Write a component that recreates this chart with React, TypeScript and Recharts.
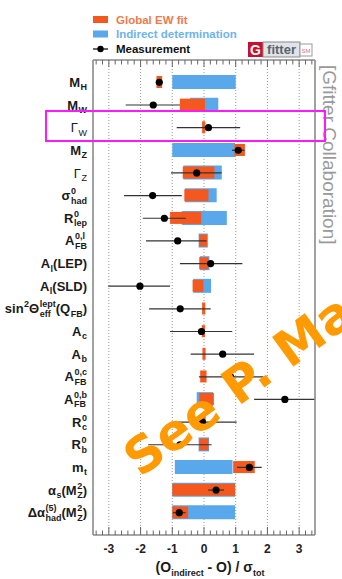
import React from 'react';
import { ComposedChart, Bar, Line, XAxis, YAxis, CartesianGrid, ErrorBar } from 'recharts';

// ---------- data ----------
const categories = ['MH', 'MW', 'GW', 'MZ', 'GZ', 'sighad', 'Rlep', 'AFBl', 'AlLEP', 'AlSLD', 'sin2', 'Ac', 'Ab', 'AFBc', 'AFBb', 'Rc', 'Rb', 'mt', 'alphas', 'dalpha'];

const indirectLo = [-1.0, -0.44, null, -1.0, -0.65, -0.6, -0.7, -0.17, -0.13, -0.34, null, null, null, null, -0.23, null, -0.17, -0.92, -1.0, -1.0];
const indirectHi = [1.0, 0.45, null, 0.98, 0.56, 0.4, 0.72, 0.12, 0.17, 0.22, null, null, null, null, 0.29, null, 0.16, 0.9, 0.98, 0.98];
const fitLo = [-1.5, -0.76, -0.06, 0.96, -0.67, -0.62, -1.07, -0.15, -0.15, -0.36, -0.06, -0.07, -0.05, -0.12, -0.15, -0.07, -0.15, 0.92, -1.0, -1.0];
const fitHi = [-1.32, 0.03, 0.04, 1.29, 0.33, 0.14, -0.09, 0.1, 0.14, -0.02, 0.04, 0.03, 0.05, 0.08, 0.31, 0.05, 0.14, 1.6, 0.98, -0.5];
const measurement = [-1.41, -1.6, 0.14, 1.08, -0.23, -1.62, -1.25, -0.83, 0.21, -2.02, -0.75, -0.08, 0.59, 0.84, 2.55, -0.05, -0.76, 1.43, 0.38, -0.78];
const errLow = [0.05, 0.87, 1.0, 0.2, 0.81, 0.9, 0.68, 1.0, 0.97, 1.0, 0.98, 0.99, 1.01, 1.0, 0.97, 0.9, 1.0, 0.39, 0.25, 0.2];
const errHigh = [0.05, 0.84, 1.0, 0.2, 0.79, 0.92, 0.68, 0.91, 1.0, 0.95, 0.96, 0.97, 0.99, 1.03, 0.95, 1.08, 1.0, 0.39, 0.25, 0.2];

const majorTicks = [-3, -2, -1, 0, 1, 2, 3];

type G = { t: string; sup?: string; sub?: string };
const labelGroups: Record<string, G[]> = {
  MH: [{ t: 'M', sub: 'H' }],
  MW: [{ t: 'M', sub: 'W' }],
  GW: [{ t: 'Γ', sub: 'W' }],
  MZ: [{ t: 'M', sub: 'Z' }],
  GZ: [{ t: 'Γ', sub: 'Z' }],
  sighad: [{ t: 'σ', sup: '0', sub: 'had' }],
  Rlep: [{ t: 'R', sup: '0', sub: 'lep' }],
  AFBl: [{ t: 'A', sup: '0,l', sub: 'FB' }],
  AlLEP: [{ t: 'A', sub: 'l' }, { t: '(LEP)' }],
  AlSLD: [{ t: 'A', sub: 'l' }, { t: '(SLD)' }],
  sin2: [{ t: 'sin', sup: '2' }, { t: 'Θ', sup: 'lept', sub: 'eff' }, { t: '(Q', sub: 'FB' }, { t: ')' }],
  Ac: [{ t: 'A', sub: 'c' }],
  Ab: [{ t: 'A', sub: 'b' }],
  AFBc: [{ t: 'A', sup: '0,c', sub: 'FB' }],
  AFBb: [{ t: 'A', sup: '0,b', sub: 'FB' }],
  Rc: [{ t: 'R', sup: '0', sub: 'c' }],
  Rb: [{ t: 'R', sup: '0', sub: 'b' }],
  mt: [{ t: 'm', sub: 't' }],
  alphas: [{ t: 'α', sub: 's' }, { t: '(M', sup: '2', sub: 'Z' }, { t: ')' }],
  dalpha: [{ t: 'Δα', sup: '(5)', sub: 'had' }, { t: '(M', sup: '2', sub: 'Z' }, { t: ')' }],
};
const thinLabels = new Set(['GW', 'GZ']);

const data = categories.map((name, i) => ({
  name,
  indirect: indirectLo[i] === null ? null : [indirectLo[i], indirectHi[i]],
  fit: [fitLo[i], fitHi[i]],
  meas: measurement[i],
  err: [errLow[i], errHigh[i]],
}));

// ---------- styling ----------
const BLUE = '#5aa8ec';
const ORANGE = '#f4581e';
const FRAME = '#8a8a8a';
const FONT = '"Liberation Sans", Arial, Helvetica, sans-serif';

const allTicks: number[] = [];
for (let k = -17; k <= 17; k++) allTicks.push(Math.round(k * 2) / 10);
const isMajor = (v: number) => Math.abs(v - Math.round(v)) < 1e-6;

let ctx: CanvasRenderingContext2D | null = null;
function measure(text: string, size: number, weight: string) {
  if (!ctx) ctx = document.createElement('canvas').getContext('2d');
  if (!ctx) return text.length * size * 0.6;
  ctx.font = `${weight} ${size}px ${FONT}`;
  return ctx.measureText(text).width;
}

const MS = 13;
const SS = 9;

const YTick = (props: any) => {
  const { x, y, payload } = props;
  const key = payload.value as string;
  const groups = labelGroups[key] || [{ t: key }];
  const weight = thinLabels.has(key) ? 'normal' : 'bold';
  const ws = groups.map((g) => {
    const wm = measure(g.t, MS, weight);
    const wsub = g.sub ? measure(g.sub, SS, weight) : 0;
    const wsup = g.sup ? measure(g.sup, SS, weight) : 0;
    const ws2 = g.sub || g.sup ? Math.max(wsub, wsup) + 0.5 : 0;
    return { wm, ws: ws2 };
  });
  const total = ws.reduce((a, b) => a + b.wm + b.ws, 0);
  let cx = x - 6 - total;
  const els: any[] = [];
  groups.forEach((g, i) => {
    els.push(
      <text key={'m' + i} x={cx} y={y + 4.6} fontSize={MS} fontWeight={weight} fontFamily={FONT} fill="#1a1a1a">
        {g.t}
      </text>
    );
    const sx = cx + ws[i].wm + 0.5;
    if (g.sup)
      els.push(
        <text key={'p' + i} x={sx} y={y - 1.5} fontSize={SS} fontWeight={weight} fontFamily={FONT} fill="#1a1a1a">
          {g.sup}
        </text>
      );
    if (g.sub)
      els.push(
        <text key={'b' + i} x={sx} y={y + 8} fontSize={SS} fontWeight={weight} fontFamily={FONT} fill="#1a1a1a">
          {g.sub}
        </text>
      );
    cx += ws[i].wm + ws[i].ws;
  });
  return <g>{els}</g>;
};

const BottomTick = (props: any) => {
  const { x, y, payload } = props;
  const v = payload.value as number;
  const major = isMajor(v);
  return (
    <g>
      <line x1={x} x2={x} y1={y} y2={y - (major ? 8 : 4.5)} stroke="#666" strokeWidth={1} />
      {major && (
        <text x={x} y={y + 18} textAnchor="middle" fontSize={12} fontWeight="bold" fontFamily={FONT} fill="#222">
          {String(Math.round(v))}
        </text>
      )}
    </g>
  );
};

const TopTick = (props: any) => {
  const { x, y, payload } = props;
  const v = payload.value as number;
  const major = isMajor(v);
  return <line x1={x} x2={x} y1={y} y2={y + (major ? 7 : 4.5)} stroke="#666" strokeWidth={1} />;
};

export default function App() {
  return (
    <div style={{ position: 'absolute', left: 0, top: 0, width: 342, height: 579, background: '#fff', overflow: 'hidden' }}>
      <div style={{ position: 'absolute', left: 0, top: 0 }}>
        <ComposedChart
          width={342}
          height={579}
          data={data}
          layout="vertical"
          margin={{ top: 50, right: 26, bottom: 14, left: 8 }}
        >
          <CartesianGrid
            xAxisId="b"
            yAxisId="l"
            horizontal={false}
            verticalValues={majorTicks}
            stroke="#9a9a9a"
            strokeDasharray="1 2"
          />
          <XAxis
            xAxisId="b"
            type="number"
            orientation="bottom"
            domain={[-3.5, 3.5]}
            ticks={allTicks}
            interval={0}
            allowDataOverflow
            tickSize={0}
            tickMargin={0}
            tickLine={false}
            axisLine={{ stroke: FRAME, strokeWidth: 1.6 }}
            height={30}
            tick={(p: any) => <BottomTick {...p} />}
          />
          <XAxis
            xAxisId="t"
            type="number"
            orientation="top"
            domain={[-3.5, 3.5]}
            ticks={allTicks}
            interval={0}
            allowDataOverflow
            tickSize={0}
            tickMargin={0}
            tickLine={false}
            axisLine={{ stroke: FRAME, strokeWidth: 1.6 }}
            height={10}
            tick={(p: any) => <TopTick {...p} />}
          />
          <YAxis
            yAxisId="l"
            type="category"
            dataKey="name"
            width={85}
            padding={{ top: 11, bottom: 11 }}
            interval={0}
            tickSize={0}
            tickMargin={0}
            tickLine={false}
            axisLine={{ stroke: FRAME, strokeWidth: 1.6 }}
            tick={(p: any) => <YTick {...p} />}
          />
          <YAxis
            yAxisId="r"
            type="category"
            dataKey="name"
            orientation="right"
            width={1}
            padding={{ top: 11, bottom: 11 }}
            interval={0}
            tick={false}
            tickLine={false}
            axisLine={{ stroke: FRAME, strokeWidth: 1.6 }}
          />
          <Bar dataKey="indirect" xAxisId="b" yAxisId="l" fill={BLUE} barSize={14} isAnimationActive={false} />
          <Bar dataKey="fit" xAxisId="b" yAxisId="r" fill={ORANGE} barSize={12} isAnimationActive={false} />
          <Line
            dataKey="meas"
            xAxisId="b"
            yAxisId="l"
            stroke="none"
            dot={{ r: 3.6, fill: '#000', stroke: '#000', strokeWidth: 0 }}
            activeDot={false}
            isAnimationActive={false}
          >
            <ErrorBar dataKey="err" direction="x" width={0} stroke="#333" strokeWidth={1.2} />
          </Line>
        </ComposedChart>
      </div>
      <svg width={342} height={579} style={{ position: 'absolute', left: 0, top: 0, pointerEvents: 'none' }}>
        {/* legend */}
        <rect x={93} y={16} width={15} height={7} fill={ORANGE} />
        <text x={116} y={23.5} fontSize={11.5} fontWeight="bold" fontFamily={FONT} fill="#f07a4a">
          Global EW fit
        </text>
        <rect x={93} y={30.5} width={15} height={7} fill={BLUE} />
        <text x={116} y={38} fontSize={11.5} fontWeight="bold" fontFamily={FONT} fill="#6db3ee">
          Indirect determination
        </text>
        <line x1={93} x2={108} y1={49} y2={49} stroke="#000" strokeWidth={1.2} />
        <circle cx={100.5} cy={49} r={3.2} fill="#000" />
        <text x={116} y={53} fontSize={11.5} fontWeight="bold" fontFamily={FONT} fill="#111">
          Measurement
        </text>
        {/* Gfitter logo */}
        <rect x={248} y={42} width={15} height={15} fill="#c8102e" />
        <text x={255.5} y={54.5} textAnchor="middle" fill="#fff" fontSize={14} fontWeight="bold" fontFamily={FONT}>
          G
        </text>
        <rect x={263} y={42} width={37} height={15} fill="#dfe4e8" stroke="#8a8a8a" strokeWidth={1} />
        <text x={281.5} y={54} textAnchor="middle" fontSize={13} fontWeight="bold" fill="#59636e" fontFamily={FONT}>
          fitter
        </text>
        <rect x={300} y={44} width={12} height={12} fill="#fff" stroke="#999" strokeWidth={1} />
        <text x={306} y={53} fontSize={6} fill="#e07080" textAnchor="middle" fontFamily={FONT}>
          SM
        </text>
        {/* side credit */}
        <text transform="translate(323,65) rotate(90)" fontSize={19} fill="#9a9a9a" fontFamily={FONT}>
          [Gfitter Collaboration]
        </text>
        {/* axis title */}
        <text x={210} y={572} textAnchor="middle" fontSize={14} fontWeight="bold" fontFamily={FONT} fill="#1a1a1a">
          <tspan>(O</tspan>
          <tspan fontSize={9} dy={4}>indirect</tspan>
          <tspan dy={-4}> - O) /  σ</tspan>
          <tspan fontSize={9} dy={4}>tot</tspan>
        </text>
        {/* highlight box */}
        <rect x={46} y={111} width={279} height={30} fill="none" stroke="#ff19ff" strokeWidth={2} />
        {/* watermark */}
        <text
          transform="translate(140,478) rotate(-36)"
          fontSize={50}
          fontWeight="bold"
          fontFamily='"DejaVu Sans", sans-serif'
          fill="#ff9a00"
        >
          See P. Mas
        </text>
      </svg>
    </div>
  );
}
